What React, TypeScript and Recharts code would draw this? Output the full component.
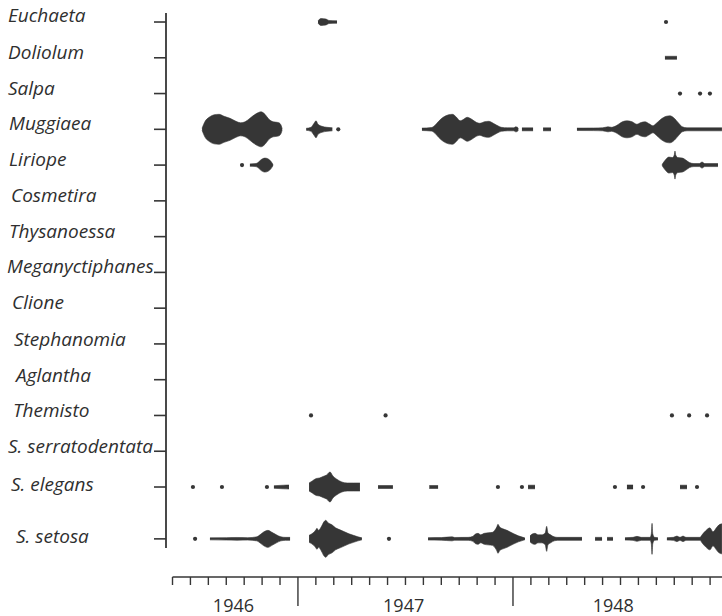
import React from 'react';
import { ComposedChart, Area, Scatter, XAxis, YAxis, ReferenceLine } from 'recharts';

// ---- rows (species) ----
const species = [
  'Euchaeta', 'Doliolum', 'Salpa', 'Muggiaea', 'Liriope', 'Cosmetira', 'Thysanoessa',
  'Meganyctiphanes', 'Clione', 'Stephanomia', 'Aglantha', 'Themisto',
  'S. serratodentata', 'S. elegans', 'S. setosa',
];
const rowPos = [0, 1, 2, 3, 4, 5, 6, 7, 8, 9, 10, 11, 12, 13, 14.45];

// ---- time axis: months counted from Jan 1946 (5 = Jun 1946) ----
const monthTicks = [
  5, 6, 7, 8, 9, 10, 11, 12, 13, 14, 15, 16, 17, 18, 19, 20, 21, 22, 23, 24,
  25, 26, 27, 28, 29, 30, 31, 32, 33, 34, 35,
];
const yearBoundaries = [12, 24];
const yearLabels = ['1946', '1947', '1948'];
const yearLabelPos = [8.4, 17.9, 29.6];

// ---- kite half-widths [month, abundance] ; null = gap ----
type P = [number, number] | null;

const euchaetaKite: P[] = [[13.12, 1], [13.28, 3.5], [13.56, 3], [13.73, 1.5], [14.18, 1.2]];
const euchaetaDots = [32.54];

const doliolumKite: P[] = [[32.48, 1.5], [33.15, 1.5]];
const doliolumDots: number[] = [];

const salpaKite: P[] = [];
const salpaDots = [33.32, 34.44, 34.99];

const muggiaeaKite: P[] = [
  [6.65, 1], [6.82, 8], [7.04, 12], [7.32, 14.5], [7.6, 15], [7.88, 13], [8.21, 11], [8.54, 8],
  [8.8, 6.5], [9.05, 7.5], [9.32, 11], [9.66, 15.5], [9.94, 17.5], [10.16, 15], [10.38, 10],
  [10.61, 7.5], [10.83, 7], [10.94, 6.5], [11.06, 4], [11.12, 0.5],
  null,
  [12.46, 1], [12.73, 2], [12.9, 6], [13.01, 8.5], [13.12, 5], [13.34, 3], [13.62, 2], [13.92, 1.5],
  null,
  [18.92, 1.2], [19.45, 1.8], [19.65, 4], [19.85, 8], [20.1, 12], [20.4, 14.5], [20.62, 15],
  [20.85, 12], [21.05, 8.5], [21.2, 9.5], [21.45, 12], [21.7, 10], [21.95, 7], [22.15, 6],
  [22.4, 7.5], [22.65, 8], [22.9, 6], [23.1, 4], [23.35, 2], [23.7, 1.5], [24.05, 1.5],
  [24.15, 2.5], [24.25, 2], [24.3, 1],
  null,
  [24.5, 1.5], [25.12, 1.5],
  null,
  [25.68, 1.5], [26.12, 1.5],
  null,
  [27.57, 1.2], [28.5, 1.3], [29.0, 1.5], [29.3, 2.5], [29.5, 2], [29.8, 4], [30.1, 7.5],
  [30.36, 8.5], [30.65, 7.5], [30.92, 5], [31.1, 6.5], [31.37, 7.5], [31.6, 5.5], [31.81, 3.5],
  [32.0, 6], [32.25, 10], [32.55, 13], [32.76, 13.5], [33.0, 11], [33.25, 6], [33.45, 2.5],
  [33.71, 1.5], [35.66, 1.5],
];
const muggiaeaDots = [14.25];

const liriopeKite: P[] = [
  [9.32, 1.2], [9.66, 1.5], [9.8, 3], [9.95, 5.5], [10.16, 7], [10.35, 6], [10.5, 3.5], [10.61, 0.5],
  null,
  [32.32, 0.5], [32.5, 5], [32.7, 8], [32.9, 7.5], [33.0, 10], [33.04, 14], [33.08, 10], [33.2, 7.5],
  [33.45, 7], [33.65, 5], [33.85, 2.5], [34.1, 1.5], [34.4, 1.5], [34.55, 3], [34.7, 1.5], [35.44, 1.5],
];
const liriopeDots = [8.88];

const themistoKite: P[] = [];
const themistoDots = [12.73, 16.89, 32.87, 33.83, 34.83];

const elegansKite: P[] = [
  [10.66, 1.3], [11.2, 1.8], [11.5, 2],
  null,
  [12.62, 4], [12.8, 6], [13.02, 8.5], [13.2, 9], [13.4, 10.5], [13.6, 12], [13.79, 15],
  [13.95, 11], [14.15, 8], [14.45, 5], [14.75, 4], [15.1, 4], [15.46, 4],
  null,
  [16.47, 1.5], [17.3, 1.5],
  null,
  [19.33, 1.5], [19.82, 1.5],
  null,
  [24.84, 1.8], [25.23, 1.8],
  null,
  [30.36, 2], [30.7, 2],
  null,
  [33.32, 1.8], [33.71, 1.8],
];
const elegansDots = [6.14, 7.76, 10.27, 23.16, 24.5, 29.69, 31.26, 34.27];

const setosaKite: P[] = [
  [7.09, 1], [8.0, 1.2], [8.6, 1.4], [9.2, 1.2], [9.7, 2], [9.88, 4], [10.1, 7], [10.33, 8.5],
  [10.55, 6.5], [10.8, 4], [11.05, 2], [11.3, 1.5], [11.56, 1.5],
  null,
  [12.62, 3.5], [12.85, 6], [13.0, 9], [13.06, 10.5], [13.15, 8.5], [13.3, 12], [13.45, 17],
  [13.55, 18.5], [13.68, 16], [13.9, 14], [14.1, 11], [14.35, 9], [14.6, 7], [14.85, 5],
  [15.1, 3.5], [15.35, 2], [15.57, 1],
  null,
  [19.26, 1.2], [20.0, 1.3], [20.6, 2], [20.75, 1.4], [21.5, 1.5], [21.77, 2.5], [21.88, 4.5],
  [22.05, 5.5], [22.2, 4], [22.4, 5.5], [22.61, 6], [22.85, 6.5], [23.0, 9], [23.1, 12],
  [23.16, 14.5], [23.25, 12], [23.44, 10], [23.67, 8.5], [23.83, 7], [24.05, 5], [24.3, 3],
  [24.56, 1.5], [24.67, 0.8],
  null,
  [24.95, 3], [25.1, 5], [25.23, 5.5], [25.4, 4], [25.6, 4], [25.8, 6], [25.88, 12.5], [25.95, 6],
  [26.1, 4], [26.3, 2], [26.5, 1.5], [27.85, 1.5],
  null,
  [28.58, 1.5], [28.97, 1.5],
  null,
  [29.25, 1.5], [29.58, 1.5],
  null,
  [30.25, 1.2], [30.7, 1.5], [30.92, 2.5], [31.15, 1.5], [31.65, 1.5], [31.72, 5], [31.76, 15.5],
  [31.8, 5], [31.9, 1.5], [32.09, 1.2],
  null,
  [32.59, 1.2], [32.95, 1.5], [33.15, 2.8], [33.32, 1.5], [33.49, 2.8], [33.65, 1.5], [34.44, 1.5],
  [34.55, 4], [34.75, 8], [34.99, 11], [35.16, 7], [35.35, 11], [35.5, 14], [35.66, 15],
];
const setosaDots = [6.26, 17.08];

// ---- layout / style constants ----
const W = 722;
const H = 616;
const INK = '#363636';
const TEXT = '#2f2f2f';
const KITE_UNIT = 1 / 35.77; // abundance units -> row spacing
const X_DOMAIN: [number, number] = [4.637, 35.664];
const Y_DOMAIN: [number, number] = [-0.252, 15.516];
const Y_LINE_END = 14.705;
const labelIndent = [8, 8, 8, 9, 9, 11, 9, 7, 12, 14, 16, 13, 8, 11, 16];
const labelDrop = [0, 1, 1, 1, 1, 1, 1, 1, 1, 2, 2, 2, 2, 4, 4];

const series = [
  { row: 0, kite: euchaetaKite, dots: euchaetaDots },
  { row: 1, kite: doliolumKite, dots: doliolumDots },
  { row: 2, kite: salpaKite, dots: salpaDots },
  { row: 3, kite: muggiaeaKite, dots: muggiaeaDots },
  { row: 4, kite: liriopeKite, dots: liriopeDots },
  { row: 11, kite: themistoKite, dots: themistoDots },
  { row: 13, kite: elegansKite, dots: elegansDots },
  { row: 14, kite: setosaKite, dots: setosaDots },
];

function splitSegments(pts: P[]): [number, number][][] {
  const out: [number, number][][] = [];
  let cur: [number, number][] = [];
  for (const p of pts) {
    if (p === null) {
      if (cur.length) out.push(cur);
      cur = [];
    } else cur.push(p);
  }
  if (cur.length) out.push(cur);
  return out;
}

const YTick = (props: any) => {
  const { x, y, payload } = props;
  const idx = rowPos.indexOf(payload.value);
  if (idx < 0) return null;
  return (
    <g>
      <line x1={x - 12} x2={x} y1={y} y2={y} stroke={INK} strokeWidth={1.6} />
      <text
        x={labelIndent[idx]}
        y={y + labelDrop[idx]}
        fill={TEXT}
        fontFamily="'Open Sans', 'Noto Sans', sans-serif"
        fontStyle="italic"
        fontSize={19}
      >
        {species[idx]}
      </text>
    </g>
  );
};

const XTick = (props: any) => {
  const { x, y, payload } = props;
  const v = payload.value;
  const li = yearLabelPos.indexOf(v);
  if (li >= 0) {
    return (
      <text
        x={x}
        y={y + 35}
        textAnchor="middle"
        fill={TEXT}
        fontFamily="'Open Sans', 'Noto Sans', sans-serif"
        fontSize={18}
      >
        {yearLabels[li]}
      </text>
    );
  }
  const len = yearBoundaries.includes(v) ? 29 : 8;
  return <line x1={x} x2={x} y1={y} y2={y + len} stroke={INK} strokeWidth={1.4} />;
};

export default function App() {
  const xTicks = [...monthTicks, ...yearLabelPos].sort((a, b) => a - b);
  const areas: React.ReactNode[] = [];
  const dots: React.ReactNode[] = [];
  series.forEach((s, si) => {
    const c = rowPos[s.row];
    splitSegments(s.kite).forEach((seg, gi) => {
      const data = seg.map(([m, w]) => ({ m, r: [c - w * KITE_UNIT, c + w * KITE_UNIT] }));
      areas.push(
        <Area
          key={`a-${si}-${gi}`}
          data={data}
          dataKey="r"
          type="monotone"
          fill={INK}
          fillOpacity={1}
          stroke={INK}
          strokeWidth={0.6}
          isAnimationActive={false}
          dot={false}
          activeDot={false}
        />
      );
    });
    if (s.dots.length) {
      dots.push(
        <Scatter
          key={`d-${si}`}
          data={s.dots.map((m) => ({ m, y: c }))}
          dataKey="y"
          fill={INK}
          isAnimationActive={false}
          shape={(p: any) => <circle cx={p.cx} cy={p.cy} r={2.1} fill={INK} />}
        />
      );
    }
  });

  return (
    <div style={{ position: 'absolute', left: 0, top: 0, width: W, height: H, background: '#fff' }}>
      <ComposedChart width={W} height={H} margin={{ top: 13, right: 0, bottom: 0, left: 0 }}>
        <XAxis
          dataKey="m"
          type="number"
          domain={X_DOMAIN}
          allowDataOverflow
          ticks={xTicks}
          interval={0}
          tick={<XTick />}
          tickLine={false}
          axisLine={false}
          tickSize={0}
          tickMargin={0}
          height={39}
        />
        <YAxis
          type="number"
          domain={Y_DOMAIN}
          allowDataOverflow
          reversed
          ticks={rowPos}
          interval={0}
          tick={<YTick />}
          tickLine={false}
          axisLine={false}
          tickSize={0}
          tickMargin={0}
          width={166}
        />
        <ReferenceLine
          segment={[{ x: X_DOMAIN[0], y: Y_DOMAIN[0] }, { x: X_DOMAIN[0], y: Y_LINE_END }]}
          stroke={INK}
          strokeWidth={1.8}
          ifOverflow="visible"
        />
        <ReferenceLine
          segment={[{ x: 5, y: Y_DOMAIN[1] }, { x: X_DOMAIN[1], y: Y_DOMAIN[1] }]}
          stroke={INK}
          strokeWidth={1.4}
          ifOverflow="visible"
        />
        {areas}
        {dots}
      </ComposedChart>
    </div>
  );
}
